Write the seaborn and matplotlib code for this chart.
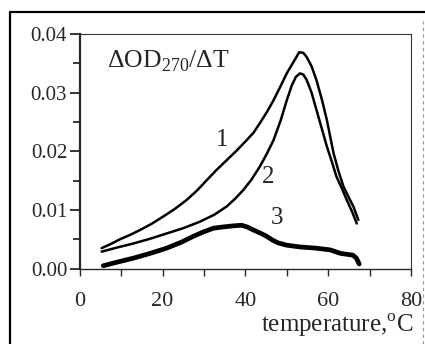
import seaborn as sns
import matplotlib.pyplot as plt
import pandas as pd
from matplotlib.lines import Line2D

# curve values
temp1 = [5.3, 7.5, 9.7, 12, 14.6, 17.5, 20.2, 23, 25.8, 28.3, 30.7, 33, 35.5, 38, 40.3, 42, 43.5, 45.2, 46.8, 48.5, 50, 51.6, 53.0, 54.0, 54.8, 56, 57.2, 58.5, 59.7, 61.3, 62.5, 63.7, 65, 66.1, 67.3]
od1 = [0.0035, 0.0042, 0.0050, 0.0057, 0.0066, 0.0077, 0.0089, 0.0102, 0.0117, 0.0133, 0.0151, 0.0168, 0.0185, 0.0202, 0.0219, 0.0232, 0.0248, 0.0267, 0.0287, 0.0311, 0.0333, 0.0352, 0.0369, 0.0368, 0.0361, 0.0345, 0.0321, 0.0288, 0.0253, 0.0197, 0.0166, 0.0140, 0.0121, 0.0106, 0.0083]

temp2 = [5.3, 9, 13, 17, 21, 25, 29, 32.5, 35.5, 37.5, 39.5, 41.5, 43.5, 45.2, 46.8, 48.5, 50, 51.2, 52.2, 53.2, 54.0, 54.8, 56, 57.2, 58.5, 59.7, 61, 62, 63.3, 64.5, 65.8, 66.9]
od2 = [0.0029, 0.0036, 0.0043, 0.0051, 0.0060, 0.0069, 0.0080, 0.0092, 0.0106, 0.0119, 0.0134, 0.0152, 0.0174, 0.0196, 0.0219, 0.0252, 0.0287, 0.0312, 0.0327, 0.0333, 0.0331, 0.0322, 0.0300, 0.0270, 0.0238, 0.0208, 0.0180, 0.0157, 0.0137, 0.0117, 0.0097, 0.0077]

temp3 = [5.7, 9, 13, 17, 21, 24.5, 27.4, 30, 32.3, 34.5, 37.1, 39.1, 40.5, 41.9, 43.5, 45.2, 46.5, 47.9, 50, 53.2, 57, 60.5, 63, 66, 66.8, 67.5]
od3 = [0.0005, 0.0011, 0.0018, 0.0026, 0.0035, 0.0045, 0.0055, 0.0063, 0.0069, 0.0071, 0.0073, 0.0074, 0.0071, 0.0066, 0.0061, 0.0055, 0.0049, 0.0044, 0.0040, 0.0037, 0.0035, 0.0032, 0.0026, 0.0023, 0.0018, 0.0008]

curve_labels = ["1", "2", "3"]

sns.set_style("ticks")
plt.rcParams["font.family"] = ["Liberation Serif", "DejaVu Serif"]
plt.rcParams["mathtext.fontset"] = "custom"
plt.rcParams["mathtext.rm"] = "Liberation Serif"

fig = plt.figure(figsize=(4.25, 3.44), dpi=100)
ax = fig.add_axes([0.1875, 0.219, 0.7795, 0.682])

df1 = pd.DataFrame({"t": temp1, "od": od1})
df2 = pd.DataFrame({"t": temp2, "od": od2})
df3 = pd.DataFrame({"t": temp3, "od": od3})
sns.lineplot(data=df1, x="t", y="od", ax=ax, color="black", lw=1.8, sort=False)
sns.lineplot(data=df2, x="t", y="od", ax=ax, color="black", lw=1.8, sort=False)
sns.lineplot(data=df3, x="t", y="od", ax=ax, color="black", lw=3.4, sort=False)

ax.set_xlim(0, 80)
ax.set_ylim(0, 0.04)
ax.set_xticks([0, 20, 40, 60, 80])
ax.set_xticks([10, 30, 50, 70], minor=True)
ax.set_yticks([0, 0.01, 0.02, 0.03, 0.04])
ax.set_yticklabels(["0.00", "0.01", "0.02", "0.03", "0.04"])
ax.set_yticks([0.005, 0.015, 0.025, 0.035], minor=True)
ax.tick_params(axis="y", which="major", direction="out", length=7, width=1.3, labelsize=15, pad=2)
ax.tick_params(axis="y", which="minor", direction="out", length=5, width=1.3)
ax.tick_params(axis="x", which="both", direction="out", length=5, width=1, labelsize=16, pad=12)
ax.set_xlabel("")
ax.set_ylabel("")

ax.spines["left"].set_linewidth(1.6)
ax.spines["bottom"].set_linewidth(1.0)
for s in ["top", "right"]:
    ax.spines[s].set_visible(True)
    ax.spines[s].set_linewidth(0.8)
    ax.spines[s].set_color("#333333")

# labels
ax.text(0.082, 0.885, "ΔOD$_{270}$/ΔT", transform=ax.transAxes, fontsize=18.5, va="center", ha="left")
ax.text(34.4, 0.0219, curve_labels[0], fontsize=18, ha="center", va="center")
ax.text(45.5, 0.0156, curve_labels[1], fontsize=18, ha="center", va="center")
ax.text(47.6, 0.0086, curve_labels[2], fontsize=18, ha="center", va="center")
fig.text(0.972, 0.035, "temperature,$^{\\rm o}$C", fontsize=18, ha="right", va="baseline")

# outer frame
fig.add_artist(Line2D([0.024, 0.024], [0.0, 0.965], transform=fig.transFigure, color="black", lw=1.6))
fig.add_artist(Line2D([0.024, 1.0], [0.965, 0.965], transform=fig.transFigure, color="black", lw=1.6))
fig.add_artist(Line2D([0.995, 0.995], [0.0, 0.94], transform=fig.transFigure, color="#999999", lw=0.8, ls=(0, (3, 3))))

fig.savefig("out.png", dpi=100)
